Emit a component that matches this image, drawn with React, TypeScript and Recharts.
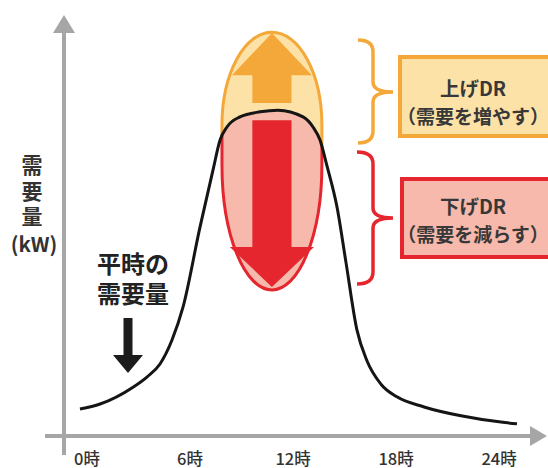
import React from 'react';
import { LineChart, Line, XAxis, YAxis, ReferenceArea, Curve } from 'recharts';

// Demand curve: hour of day -> demand (arbitrary kW units, 0..100)
const HOURS = [-0.41, 0.76, 2.68, 3.49, 4.25, 4.95, 5.59, 6.58, 7.34, 7.75, 8.15, 8.91, 10.08, 11.12, 12.58, 13.16, 13.57, 13.98, 14.56, 15.08, 15.72, 16.31, 17.12, 18.05, 19.63, 21.78, 24.11, 25.04];
const DEMAND = [6.4, 7.6, 11.6, 14.0, 17.1, 22.8, 30.6, 49.6, 63.2, 70.3, 73.4, 75.8, 77.0, 77.4, 75.8, 73.4, 70.3, 64.1, 54.4, 41.3, 25.2, 17.8, 12.3, 9.3, 6.9, 4.8, 3.3, 2.9];
const TICK_HOURS = [0, 6, 12, 18, 24];
const TICK_SUFFIX = '時';

const Y_LABEL_CHARS = ['需', '要', '量'];
const Y_LABEL_UNIT = '(kW)';
const NORMAL_LABEL = ['平時の', '需要量'];
const UP_DR_TEXT = ['上げDR', '（需要を増やす）'];
const DOWN_DR_TEXT = ['下げDR', '（需要を減らす）'];

// DR band (in data units: hours / demand units)
const DR_CENTER_HOUR = 10.77;
const DR_HALF_WIDTH_HOURS = 2.91;
const DR_TOP = 95.9;
const DR_UPPER_MID = 73.8;
const DR_LOWER_MID = 64.4;
const DR_BOTTOM = 34.7;

const X_MIN = -1.34;
const X_MAX = 26.79;
const Y_MIN = 0;
const Y_MAX = 100;

const chartData = HOURS.map((h, i) => ({ hour: h, demand: DEMAND[i] }));

const FONT = '"Noto Sans CJK JP", "Noto Sans", sans-serif';
const AXIS_GRAY = '#a6a6a6';
const ORANGE = '#f5a83a';
const ORANGE_LIGHT = '#fde2a7';
const RED = '#e6262e';
const PINK = '#f6b9ab';
const TEXT_DARK = '#383838';

function Overlay(props: any) {
  const { x, y, width, height } = props;
  const sx = (h: number) => x + ((h - X_MIN) / (X_MAX - X_MIN)) * width;
  const sy = (d: number) => y + height - ((d - Y_MIN) / (Y_MAX - Y_MIN)) * height;
  const hw = (hours: number) => sx(hours) - sx(0);

  const pts = HOURS.map((h, i) => ({ x: sx(h), y: sy(DEMAND[i]) }));

  const cx = sx(DR_CENTER_HOUR);
  const rx = hw(DR_HALF_WIDTH_HOURS);
  const top = sy(DR_TOP);
  const m1 = sy(DR_UPPER_MID);
  const m2 = sy(DR_LOWER_MID);
  const bot = sy(DR_BOTTOM);
  const egg = `M${cx - rx},${m1} A${rx},${m1 - top} 0 0 1 ${cx + rx},${m1} L${cx + rx},${m2} A${rx},${bot - m2} 0 0 1 ${cx - rx},${m2} Z`;

  // up arrow
  const upTip = sy(95.7);
  const upBase = sy(85.7);
  const upShaftEnd = sy(79.1);
  const headW = hw(2.33);
  const shaftW = hw(1.14);
  const upArrow = `M${cx - shaftW},${upShaftEnd} L${cx - shaftW},${upBase} L${cx - headW},${upBase} L${cx},${upTip} L${cx + headW},${upBase} L${cx + shaftW},${upBase} L${cx + shaftW},${upShaftEnd} Z`;

  // down arrow
  const dnStart = sy(75.0);
  const dnBase = sy(44.9);
  const dnTip = sy(35.4);
  const dnHeadW = hw(2.45);
  const downArrow = `M${cx - shaftW},${dnStart} L${cx - shaftW},${dnBase} L${cx - dnHeadW},${dnBase} L${cx},${dnTip} L${cx + dnHeadW},${dnBase} L${cx + shaftW},${dnBase} L${cx + shaftW},${dnStart} Z`;

  const axisY = y + height;
  const axisX = x;

  const txt = (t: string, tx: number, ty: number, size: number, fill = TEXT_DARK, weight = 700) => (
    <text key={t + tx + ty} x={tx} y={ty} textAnchor="middle" dominantBaseline="central" fontFamily={FONT} fontSize={size} fontWeight={weight} fill={fill}>
      {t}
    </text>
  );

  return (
    <g>
      <defs>
        <clipPath id="dr-above">
          <Curve type="monotone" layout="horizontal" points={pts} baseLine={y - 40} />
        </clipPath>
        <clipPath id="dr-below">
          <Curve type="monotone" layout="horizontal" points={pts} baseLine={y + height + 40} />
        </clipPath>
      </defs>

      {/* axes with arrows */}
      <line x1={axisX} y1={axisY + 19} x2={axisX} y2={y + 16} stroke={AXIS_GRAY} strokeWidth={4} />
      <polygon points={`${axisX - 11},${y + 18} ${axisX + 11},${y + 18} ${axisX},${y}`} fill={AXIS_GRAY} />
      <line x1={axisX - 19} y1={axisY} x2={x + width - 15} y2={axisY} stroke={AXIS_GRAY} strokeWidth={4} />
      <polygon points={`${x + width - 17},${axisY - 10} ${x + width - 17},${axisY + 10} ${x + width},${axisY}`} fill={AXIS_GRAY} />

      {/* DR band */}
      <g clipPath="url(#dr-below)">
        <path d={egg} fill={PINK} stroke={RED} strokeWidth={3} />
      </g>
      <path d={downArrow} fill={RED} />
      <g clipPath="url(#dr-above)">
        <path d={egg} fill={ORANGE_LIGHT} stroke={ORANGE} strokeWidth={3} />
        <path d={upArrow} fill={ORANGE} />
      </g>

      {/* braces */}
      <path d="M358,40 Q373,40 373,52 L373,82 Q373,92 393,92 Q373,92 373,102 L373,131 Q373,143 358,143" fill="none" stroke={ORANGE} strokeWidth={3.5} />
      <path d="M357,152 Q373,152 373,164 L373,208 Q373,218 393,218 Q373,218 373,228 L373,272 Q373,284 357,284" fill="none" stroke={RED} strokeWidth={3.5} />

      {/* legend boxes */}
      <rect x={400} y={57} width={160} height={79} fill={ORANGE_LIGHT} stroke={ORANGE} strokeWidth={4} />
      {txt(UP_DR_TEXT[0], 473, 87, 19.5)}
      {txt(UP_DR_TEXT[1], 473, 115, 19)}
      <rect x={402} y={179} width={160} height={78} fill={PINK} stroke={RED} strokeWidth={4} />
      {txt(DOWN_DR_TEXT[0], 473, 205, 19.5)}
      {txt(DOWN_DR_TEXT[1], 473, 233, 19)}

      {/* y axis label */}
      {Y_LABEL_CHARS.map((c, i) => txt(c, 32, 164 + i * 25.5, 21, '#333'))}
      {txt(Y_LABEL_UNIT, 34, 243, 20.5, '#333')}

      {/* normal demand label */}
      {txt(NORMAL_LABEL[0], 133, 262, 24, '#222')}
      {txt(NORMAL_LABEL[1], 133, 292, 24, '#222')}
      <path d="M123.5,318 L132.5,318 L132.5,355 L143,355 L128,373 L113,355 L123.5,355 Z" fill="#1c1c1c" />
    </g>
  );
}

function HourTick(props: any) {
  const { x, y, payload } = props;
  return (
    <text x={x} y={y + 22} textAnchor="middle" dominantBaseline="central" fontFamily={FONT} fontSize={16.5} fontWeight={500} fill="#333">
      {`${payload.value}${TICK_SUFFIX}`}
    </text>
  );
}

export default function App() {
  return (
    <div style={{ position: 'absolute', left: 0, top: 0, width: 548, height: 468, background: '#fff' }}>
      <LineChart width={548} height={468} data={chartData} margin={{ top: 15, right: 1, bottom: 0, left: 64 }}>
        <XAxis
          dataKey="hour"
          type="number"
          domain={[X_MIN, X_MAX]}
          ticks={TICK_HOURS}
          axisLine={false}
          tickLine={false}
          tickSize={0}
          tickMargin={0}
          height={32}
          tick={<HourTick />}
          interval={0}
        />
        <YAxis hide type="number" domain={[Y_MIN, Y_MAX]} />
        <ReferenceArea x1={X_MIN} x2={X_MAX} y1={Y_MIN} y2={Y_MAX} shape={<Overlay />} ifOverflow="visible" />
        <Line dataKey="demand" type="monotone" stroke="#151515" strokeWidth={3} dot={false} isAnimationActive={false} />
      </LineChart>
    </div>
  );
}
